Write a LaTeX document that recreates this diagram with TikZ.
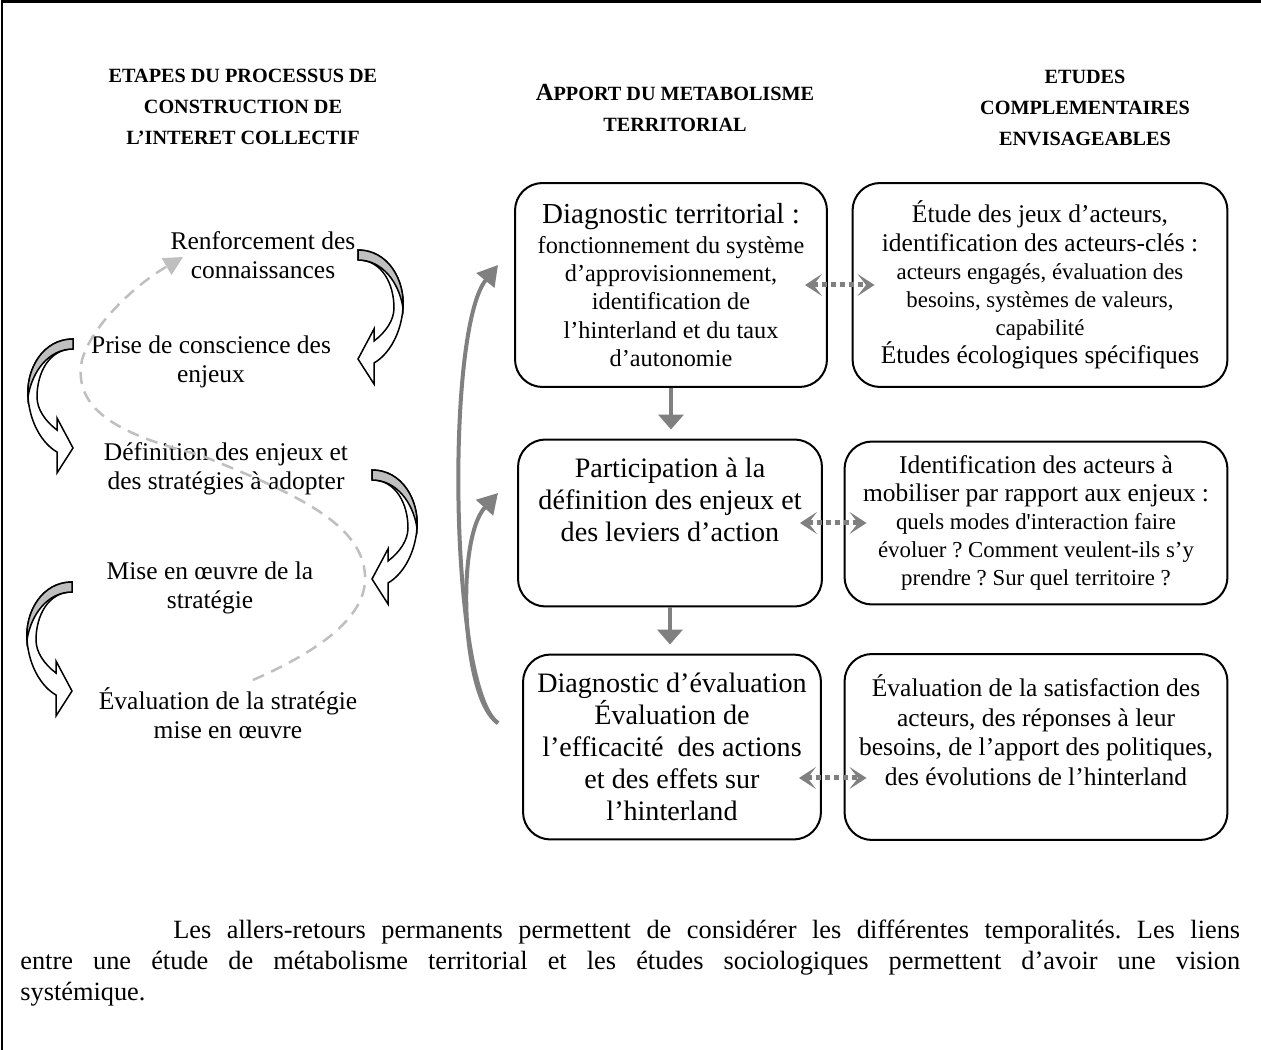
\documentclass[tikz,border=0pt]{standalone}
\usepackage{fontspec}
\setmainfont{Liberation Serif}
\usetikzlibrary{arrows.meta}
\frenchspacing

\newcommand{\bigtxt}{\fontsize{16}{18.2}\selectfont}
\newcommand{\midtxt}{\fontsize{14.5}{16}\selectfont}
\newcommand{\smalltxt}{\fontsize{13}{14.8}\selectfont}

\tikzset{
  bentarrow/.pic={
    \draw[line width=0.03cm, fill=white] (0,0) .. controls (-30,0) and (-47,30) .. (-45,58)
      .. controls (-43,85) and (-30,105) .. (-16,113) -- (-16,134) -- (0,109) -- (-16,79) -- (-16,91)
      .. controls (-28,82) and (-36,70) .. (-36,58) .. controls (-36,34) and (-24,10) .. (0,10) -- cycle;
    \draw[line width=0.03cm, fill=black!25] (0,0) .. controls (-30,0) and (-47,30) .. (-45,58)
      .. controls (-41,32) and (-24,10) .. (0,10) -- cycle;
  }
}

\begin{document}
\begin{tikzpicture}[x=0.02cm, y=-0.02cm,
  mainbox/.style={draw, rounded corners=0.55cm, line width=0.04cm, align=center},
  stage/.style={align=center, font=\fontsize{14.5}{16.5}\selectfont},
  heading/.style={align=center, font=\bfseries\fontsize{11.5}{17.8}\selectfont},
  flow/.style={-{Triangle[length=0.3cm,width=0.5cm]}, draw=gray, line width=0.08cm, shorten >=0.18cm},
  loopback/.style={-{Triangle[length=0.4cm,width=0.45cm]}, draw=gray, line width=0.08cm},
  link/.style={{Stealth[length=0.34cm,width=0.44cm,inset=0.17cm]}-{Stealth[length=0.34cm,width=0.44cm,inset=0.17cm]},
    draw=gray, line width=0.1cm, dash pattern=on 0.1cm off 0.08cm, shorten <=-0.46cm, shorten >=-0.46cm},
  feedback/.style={-{Triangle[length=0.38cm,width=0.38cm]}, draw=black!25, line width=0.05cm,
    dash pattern=on 0.24cm off 0.16cm}
]
\useasboundingbox (0,0) rectangle (1261,1050);
\draw[line width=0.06cm] (2,1050) -- (2,2) -- (1261,2);

% column headings
\node[heading] (h1) at (243,107) {ETAPES DU PROCESSUS DE\\CONSTRUCTION DE\\L’INTERET COLLECTIF};
\node[heading] (h2) at (675,108) {{\fontsize{14}{17}\selectfont A}PPORT DU METABOLISME\\TERRITORIAL};
\node[heading] (h3) at (1085,108) {ETUDES\\COMPLEMENTAIRES\\ENVISAGEABLES};

% steps
\node[stage] (s1) at (263,255) {Renforcement des\\connaissances};
\node[stage] (s2) at (211,362) {Prise de conscience des\\enjeux};
\node[stage] (s3) at (226,469) {Définition des enjeux et\\des stratégies à adopter};
\node[stage] (s4) at (210,588) {Mise en œuvre de la\\stratégie};
\node[stage] (s5) at (228,713) {Évaluation de la stratégie\\mise en œuvre};

\pic[xscale=-1] at (358,250) {bentarrow};
\pic at (73,339) {bentarrow};
\pic[xscale=-1] at (372,470) {bentarrow};
\pic at (72,582) {bentarrow};

\coordinate (fbstart) at (253,680);
\coordinate (fbend) at (183,257);
\draw[feedback] (fbstart) .. controls (310,655) and (368,620) .. (365,575)
  .. controls (362,525) and (300,495) .. (200,455)
  .. controls (120,435) and (72,410) .. (82,360)
  .. controls (92,325) and (135,285) .. (fbend);

% metabolisme territorial
\node[mainbox, minimum width=6.24cm, minimum height=4.08cm, font=\fontsize{13.8}{16}\selectfont] (a1) at (671,285)
  {{\fontsize{16.5}{18}\selectfont Diagnostic territorial :}\\[0.04cm]fonctionnement du système\\d’approvisionnement,\\identification de\\l’hinterland et du taux\\d’autonomie};
\node[mainbox, minimum width=6.08cm, minimum height=3.34cm, font=\bigtxt] (a2) at (670,523)
  {Participation à la\\définition des enjeux et\\des leviers d’action\\[0.3cm]\mbox{}};
\node[mainbox, minimum width=5.96cm, minimum height=3.7cm, font=\bigtxt] (a3) at (672,747)
  {Diagnostic d’évaluation\\Évaluation de\\l’efficacité~ des actions\\et des effets sur\\l’hinterland};

% etudes complementaires
\node[mainbox, minimum width=7.5cm, minimum height=4.08cm, font=\midtxt] (b1) at (1040,285)
  {Étude des jeux d’acteurs,\\identification des acteurs-clés :\\\smalltxt acteurs engagés, évaluation des\\\smalltxt besoins, systèmes de valeurs,\\\smalltxt capabilité\\\midtxt Études écologiques spécifiques};
\node[mainbox, minimum width=7.66cm, minimum height=3.26cm, font=\midtxt] (b2) at (1036,523)
  {Identification des acteurs à\\mobiliser par rapport aux enjeux :\\\smalltxt quels modes d\textquotesingle interaction faire\\\smalltxt évoluer ? Comment veulent-ils s’y\\\smalltxt prendre ? Sur quel territoire ?};
\node[mainbox, minimum width=7.66cm, minimum height=3.72cm, font=\fontsize{14.5}{17}\selectfont] (b3) at (1036,747)
  {Évaluation de la satisfaction des\\acteurs, des réponses à leur\\besoins, de l’apport des politiques,\\des évolutions de l’hinterland\\[0.08cm]\mbox{}};

\draw[flow] (a1.south) -- (a1.south |- a2.north);
\draw[flow] (a2.south) -- (a2.south |- a3.north);

\coordinate (lpstart) at (498,723);
\coordinate (lptop) at (498,265);
\coordinate (lpmid) at (498,493);
\draw[loopback] (lpstart) .. controls (450,690) and (445,330) .. (lptop);
\draw[loopback] (lpstart) .. controls (462,700) and (455,540) .. (lpmid);

\draw[link] (a1.east) -- (b1.west);
\draw[link] (a2.east) -- (b2.west);
\draw[link] ([yshift=-0.62cm]a3.east) -- ([yshift=-0.62cm]b3.west);

% note
\node[anchor=north west, inner sep=0pt, text width=24.4cm, align=justify, font=\fontsize{15}{17.4}\selectfont] (note) at (20,920)
  {\hspace*{3.06cm}Les allers-retours permanents permettent de considérer les différentes temporalités. Les liens\linebreak
  entre une étude de métabolisme territorial et les études sociologiques permettent d’avoir une vision\linebreak
  systémique.};
\end{tikzpicture}
\end{document}
